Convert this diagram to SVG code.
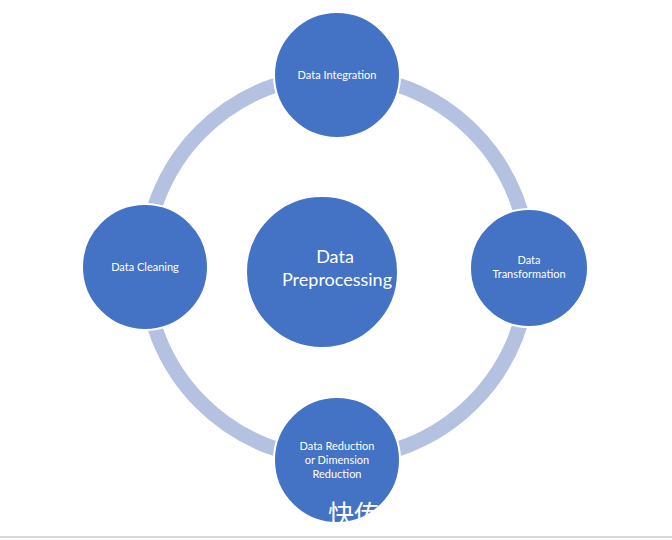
<svg xmlns="http://www.w3.org/2000/svg" width="672" height="540" viewBox="0 0 672 540">
<style>
.n{fill:#4472c4;stroke:#fff;stroke-width:2}
.t{font-family:Lato,"Noto Sans",sans-serif;fill:#fff;text-anchor:middle;font-size:11px}
</style>
<rect width="672" height="540" fill="#fff"/>
<g id="connectors"><circle cx="337" cy="267" r="192" fill="none" stroke="#b4c1e1" stroke-width="15"/></g>
<g id="center"><circle class="n" cx="322" cy="272" r="76"/><text class="t" style="font-size:18px" x="335" y="263">Data</text><text class="t" style="font-size:18px" x="337" y="286">Preprocessing</text></g>
<g id="top"><circle class="n" cx="337" cy="75" r="63"/><text class="t" x="337" y="79">Data Integration</text></g>
<g id="left"><circle class="n" cx="145" cy="267" r="63"/><text class="t" x="145" y="271">Data Cleaning</text></g>
<g id="right"><circle class="n" cx="529" cy="268" r="59"/><text class="t" x="529" y="264">Data</text><text class="t" x="529" y="278">Transformation</text></g>
<g id="bottom"><circle class="n" cx="337" cy="460" r="63"/><text class="t" x="337" y="450">Data Reduction</text><text class="t" x="337" y="464">or Dimension</text><text class="t" x="337" y="478">Reduction</text></g>
<text x="328" y="524" font-family="Noto Sans CJK SC,sans-serif" font-size="26" fill="#fff">快传号</text>
<rect x="0" y="536" width="672" height="4" fill="#fff"/>
<line x1="0" y1="537" x2="672" y2="537" stroke="#c8c8c8" stroke-width="1.5"/>
</svg>
